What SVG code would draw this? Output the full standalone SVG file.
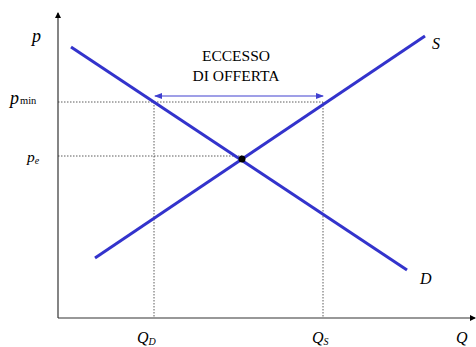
<svg xmlns="http://www.w3.org/2000/svg" width="476" height="347" viewBox="0 0 476 347">
<style>
text{font-family:"Liberation Serif","Times New Roman",serif;fill:#000}
.it{font-style:italic}
.up{font-style:normal}
.txt{font-size:15.5px;text-anchor:middle}
.curve{stroke:#3333cc;stroke-width:3;fill:none}
.guide{stroke:#333;stroke-width:0.8;stroke-dasharray:1.5,1.5;fill:none}
.axis{stroke:#333;stroke-width:1.2;fill:none}
</style>
<defs>
<marker id="ax" markerWidth="6" markerHeight="6" refX="5" refY="3" orient="auto" markerUnits="userSpaceOnUse">
<path d="M0,0 L6,3 L0,6 Z" fill="#000"/>
</marker>
<marker id="bl" markerWidth="8" markerHeight="6" refX="7" refY="3" orient="auto-start-reverse" markerUnits="userSpaceOnUse">
<path d="M0,0 L8,3 L0,6 Z" fill="#4040d0"/>
</marker>
</defs>
<g id="axes">
<line class="axis" x1="58" y1="318" x2="58" y2="13" marker-end="url(#ax)"/>
<line class="axis" x1="58" y1="318" x2="475" y2="318" marker-end="url(#ax)"/>
</g>
<g id="guides">
<line class="guide" x1="58" y1="102" x2="323" y2="102"/>
<line class="guide" x1="58" y1="156" x2="242" y2="156"/>
<line class="guide" x1="154" y1="102" x2="154" y2="318"/>
<line class="guide" x1="323" y1="102" x2="323" y2="318"/>
</g>
<g id="demand">
<line class="curve" x1="71" y1="47" x2="407" y2="270"/>
<text class="it" x="420" y="284" font-size="16">D</text>
</g>
<g id="supply">
<line class="curve" x1="95" y1="258" x2="425" y2="36"/>
<text class="it" x="432" y="49" font-size="16">S</text>
</g>
<g id="equilibrium">
<circle cx="242" cy="159" r="3.5" fill="#000"/>
</g>
<g id="excess">
<line x1="155" y1="96" x2="323" y2="96" stroke="#4040d0" stroke-width="1.2" marker-start="url(#bl)" marker-end="url(#bl)"/>
<text class="txt" x="236" y="61">ECCESSO</text>
<text class="txt" x="236" y="80.5">DI OFFERTA</text>
</g>
<g id="labels">
<text class="it" x="32" y="42" font-size="18">p</text>
<text class="it" x="10" y="104" font-size="18">p<tspan class="up" font-size="10.5" dx="1">min</tspan></text>
<text class="it" x="27" y="162" font-size="15.5">p<tspan font-size="10" dy="2">e</tspan></text>
<text class="it" x="137" y="343" font-size="16">Q<tspan font-size="10" dy="2">D</tspan></text>
<text class="it" x="312" y="343" font-size="16">Q<tspan font-size="10" dy="2">S</tspan></text>
<text class="it" x="456" y="343" font-size="16">Q</text>
</g>
</svg>
